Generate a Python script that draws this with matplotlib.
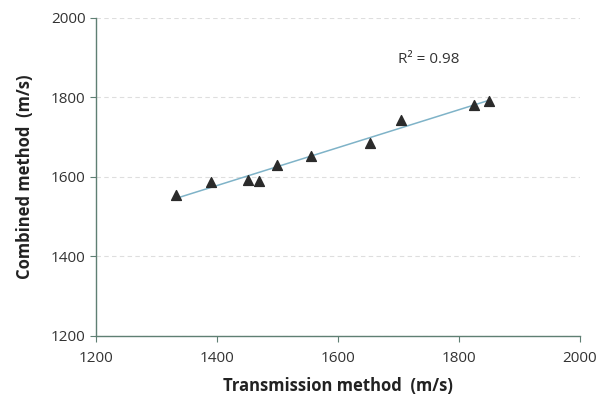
import numpy as np
import matplotlib.pyplot as plt

# readings from the two methods (m/s)
transmission = [1333, 1390, 1452, 1470, 1500, 1555, 1653, 1705, 1825, 1850]
combined = [1555, 1588, 1592, 1590, 1630, 1652, 1686, 1742, 1782, 1792]
r2_label = 'R² = 0.98'

plt.rcParams['font.family'] = ['Open Sans', 'DejaVu Sans']

fig = plt.figure(figsize=(6.04, 3.98), dpi=100)
ax = fig.add_axes([0.159, 0.156, 0.801, 0.799])

# linear trend line
slope, intercept = np.polyfit(transmission, combined, 1)
xs = np.array([min(transmission), max(transmission)])
ax.plot(xs, slope * xs + intercept, color='#7fb3c8', lw=1.1, zorder=2)

ax.scatter(transmission, combined, marker='^', s=50, color='#2b2b2b', zorder=3)

ax.text(1750, 1895, r2_label, fontsize=11, color='#333333', ha='center', va='center')

ax.set_xlim(1200, 2000)
ax.set_ylim(1200, 2000)
ax.set_xticks([1200, 1400, 1600, 1800, 2000])
ax.set_yticks([1200, 1400, 1600, 1800, 2000])
ax.yaxis.grid(True, linestyle=(0, (4, 3)), color='#dedede', lw=0.8)
ax.set_axisbelow(True)

for side in ['top', 'right']:
    ax.spines[side].set_visible(False)
for side in ['left', 'bottom']:
    ax.spines[side].set_color('#5f7f73')
    ax.spines[side].set_linewidth(1.0)
ax.tick_params(colors='#5f7f73', labelcolor='#333333', labelsize=11, length=4)
ax.tick_params(axis='x', pad=7)

ax.set_xlabel('Transmission method  (m/s)', fontsize=12, fontweight='bold', color='#222222', labelpad=8)
ax.set_ylabel('Combined method  (m/s)', fontsize=12, fontweight='bold', color='#222222', labelpad=12)

fig.savefig('out.png', dpi=100)
